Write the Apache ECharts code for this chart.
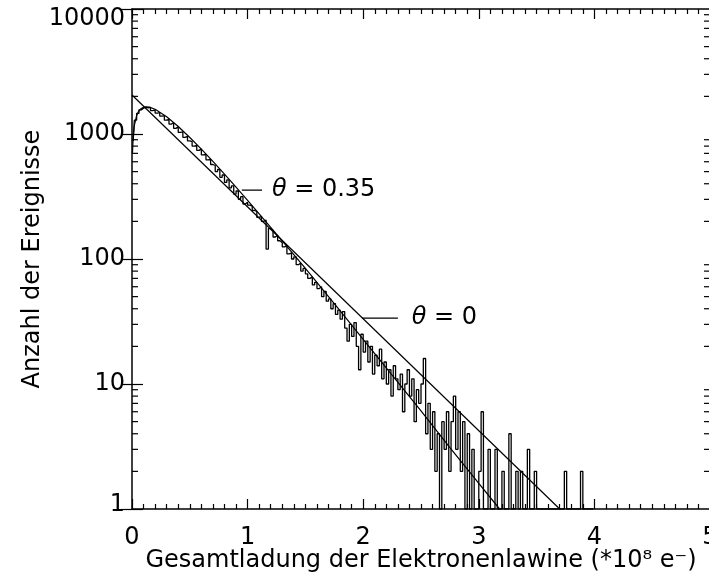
<!DOCTYPE html>
<html>
<head>
<meta charset="utf-8">
<script src="https://cdn.jsdelivr.net/npm/echarts@6/dist/echarts.min.js"></script>
<style>
html,body{margin:0;padding:0;background:#fff;}
#c{width:709px;height:576px;}
</style>
</head>
<body>
<div id="c"></div>
<script>
// ---- data ----
const xTickLabels = ['0', '1', '2', '3', '4', '5'];
const yTickLabels = ['1', '10', '100', '1000', '10000'];
const yMinorTicks = [2,3,4,5,6,7,8,9,20,30,40,50,60,70,80,90,200,300,400,500,600,700,800,900,2000,3000,4000,5000,6000,7000,8000,9000];

// histogram: bin centres start at 0.01, width 0.02
const binStart = 0.01;
const binWidth = 0.02;
const counts = [
  880,1290,1460,1560,1610,1640,1620,1630,1540,1560,
  1470,1480,1390,1400,1290,1310,1200,1230,1110,1140,
  1030,1040,940,960,880,870,800,810,740,760,
  680,690,620,630,570,560,500,520,450,470,
  410,430,370,385,330,350,300,315,275,285,
  270,265,245,240,215,220,200,205,120,175,
  170,150,155,140,135,125,128,110,112,100,
  104,90,93,80,84,76,70,72,62,65,
  58,60,50,55,46,48,40,44,36,39,
  33,38,28,22,30,24,31,20,13,25,
  18,22,15,20,12,17,14,19,11,15,
  10,13,8,14,11,9,12,6,10,13,
  8,11,5,9,7,10,16,4,7,3,
  6,2,4,1,5,3,6,2,5,8,
  3,6,2,5,1,4,1,3,1,1,
  2,6,1,1,3,1,1,3,1,1,
  2,1,1,4,1,1,2,1,2,1,
  1,3,1,1,2,1,1,1,1,1,
  1,1,1,1,1,1,1,2,1,1,
  1,1,1,1,2,1,1,1,1,1
];

// theta = 0 : straight line in the log plot
const expX = [0, 3.70];
const expY = [2050, 1];

// theta = 0.35 : Polya curve, read point by point
const polyaX = [0.004,0.01,0.02,0.04,0.06,0.08,0.1,0.125,0.15,0.2,0.3,0.4,0.5,0.6,0.7,0.8,0.9,1.0,1.1,1.25,1.5,1.75,2.0,2.25,2.5,2.75,3.0,3.18];
const polyaY = [700,940,1165,1404,1531,1600,1636,1650,1639,1576,1373,1148,938,756,603,477,376,295,230,158,84,44,22.8,11.8,6.1,3.1,1.6,1];

// annotations
const annoText = ['θ = 0.35', 'θ = 0'];
const annoLeaderX = [[0.95, 1.125], [1.99, 2.30]];
const annoY = [356, 33.7];
const annoTextX = [1.21, 2.42];

// ---- chart ----
const FONT = 'DejaVu Sans';
const FS = 24;
const chart = echarts.init(document.getElementById('c'), null, {renderer: 'canvas'});

const axisLineStyle = {color: '#000', width: 1.5};
const tickStyle = {color: '#000', width: 1.2};

const series = [
  {
    type: 'line', name: 'hist', step: 'middle', symbol: 'none',
    data: counts.map((c, i) => [binStart + i * binWidth, c]),
    lineStyle: {color: '#000', width: 1.3}, z: 3
  },
  {
    type: 'line', name: 'theta0', symbol: 'none',
    data: expX.map((x, i) => [x, expY[i]]),
    lineStyle: {color: '#000', width: 1.2}, z: 4
  },
  {
    type: 'line', name: 'theta035', symbol: 'none',
    data: polyaX.map((x, i) => [x, polyaY[i]]),
    lineStyle: {color: '#000', width: 1.2}, z: 4
  }
];
annoLeaderX.forEach((lx, k) => {
  series.push({
    type: 'line', symbol: 'none', data: [[lx[0], annoY[k]], [lx[1], annoY[k]]],
    lineStyle: {color: '#000', width: 1.2}, z: 4
  });
});
// annotation texts, placed through the axes' scales
series.push({
  type: 'custom', name: 'anno', clip: false, silent: true,
  data: annoTextX.map((x, k) => [x, annoY[k], k]),
  renderItem: (params, api) => {
    const p = api.coord([api.value(0), api.value(1)]);
    const k = api.value(2);
    return {
      type: 'text',
      style: {
        x: p[0], y: p[1],
        text: '{i|θ}' + annoText[k].slice(1),
        fill: '#000', font: FS + 'px "' + FONT + '"',
        fontFamily: FONT, fontSize: FS,
        align: 'left', verticalAlign: 'middle',
        rich: {i: {fontStyle: 'italic', fontFamily: FONT, fontSize: FS, fill: '#000'}}
      }
    };
  },
  z: 6
});
series.push({
  type: 'custom', name: 'yminor', clip: false, silent: true,
  data: yMinorTicks.map(v => [0, v]),
  renderItem: (params, api) => {
    const v = api.value(1);
    const l = api.coord([0, v]);
    const r = api.coord([5, v]);
    const st = {stroke: '#000', lineWidth: 1.2};
    return {type: 'group', children: [
      {type: 'line', shape: {x1: l[0], y1: l[1], x2: l[0] + 6, y2: l[1]}, style: st},
      {type: 'line', shape: {x1: r[0], y1: r[1], x2: r[0] - 6, y2: r[1]}, style: st}
    ]};
  },
  z: 6
});

const option = {
  animation: false,
  backgroundColor: '#fff',
  grid: {left: 132, top: 9, width: 578, height: 500, containLabel: false, outerBoundsMode: 'none'},
  xAxis: [
    {
      type: 'value', min: 0, max: 5, interval: 1, position: 'bottom',
      name: 'Gesamtladung der Elektronenlawine (*10⁸ e⁻)',
      nameLocation: 'middle', nameGap: 40, nameMoveOverlap: false,
      nameTextStyle: {fontFamily: FONT, fontSize: FS, color: '#000'},
      axisLine: {show: true, onZero: false, lineStyle: axisLineStyle},
      axisTick: {show: true, inside: true, length: 10, lineStyle: tickStyle},
      minorTick: {show: true, splitNumber: 10, length: 5, lineStyle: tickStyle},
      axisLabel: {
        show: true, margin: 17, fontFamily: FONT, fontSize: FS, color: '#000',
        showMinLabel: true, showMaxLabel: true,
        formatter: v => xTickLabels[Math.round(v)]
      },
      splitLine: {show: false}, minorSplitLine: {show: false}
    },
    {
      type: 'value', min: 0, max: 5, interval: 1, position: 'top',
      axisLine: {show: true, onZero: false, lineStyle: axisLineStyle},
      axisTick: {show: true, inside: true, length: 10, lineStyle: tickStyle},
      minorTick: {show: true, splitNumber: 10, length: 5, lineStyle: tickStyle},
      axisLabel: {show: false},
      splitLine: {show: false}
    }
  ],
  yAxis: [
    {
      type: 'log', logBase: 10, min: 1, max: 10000, position: 'left',
      name: 'Anzahl der Ereignisse', nameLocation: 'middle', nameGap: 87, nameRotate: 90,
      nameMoveOverlap: false,
      nameTextStyle: {fontFamily: FONT, fontSize: FS, color: '#000'},
      axisLine: {show: true, onZero: false, lineStyle: axisLineStyle},
      axisTick: {show: true, inside: true, length: 11, lineStyle: tickStyle},
      axisLabel: {
        show: true, margin: 7, fontFamily: FONT, fontSize: FS, color: '#000',
        showMinLabel: true, showMaxLabel: true,
        formatter: v => {
          const e = Math.round(Math.log10(v));
          const s = yTickLabels[e];
          if (e === 4) return '{t|' + s + '}';
          if (e === 0) return '{b|' + s + '}';
          return s;
        },
        rich: {
          t: {fontFamily: FONT, fontSize: FS, color: '#000', padding: [20, 0, 0, 0]},
          b: {fontFamily: FONT, fontSize: FS, color: '#000', padding: [0, 0, 8, 0]}
        }
      },
      splitLine: {show: false}
    },
    {
      type: 'log', logBase: 10, min: 1, max: 10000, position: 'right',
      axisLine: {show: false},
      axisTick: {show: true, inside: true, length: 11, lineStyle: tickStyle},
      axisLabel: {show: false},
      splitLine: {show: false}
    }
  ],
  series: series
};
chart.setOption(option);
</script>
</body>
</html>
